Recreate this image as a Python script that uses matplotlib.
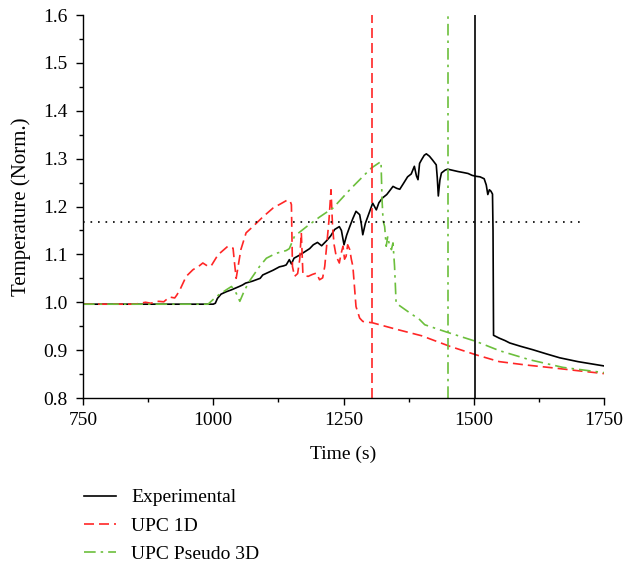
import matplotlib
matplotlib.use('Agg')
import matplotlib.pyplot as plt
from matplotlib.ticker import MultipleLocator

plt.rcParams['font.family'] = ['Liberation Serif', 'DejaVu Serif']

# ---- data ----
exp_t = [750, 1000, 1004, 1008, 1015, 1025, 1035, 1050, 1056, 1062,
         1075, 1090, 1095, 1105, 1115, 1127, 1135, 1140, 1146, 1150,
         1155, 1165, 1175, 1185, 1192, 1200, 1208, 1217, 1225, 1233,
         1242, 1246, 1251, 1256, 1262, 1268, 1274, 1281, 1284, 1287,
         1292, 1297, 1306, 1313, 1318, 1325, 1333, 1338, 1345, 1352,
         1358, 1365, 1373, 1380, 1386, 1390, 1393, 1396, 1400, 1405,
         1409, 1415, 1421, 1428, 1430, 1432, 1435, 1438, 1445, 1450,
         1458, 1470, 1480, 1489, 1497, 1505, 1512, 1520, 1524, 1527,
         1530, 1533, 1536, 1537, 1538, 1549, 1560, 1569, 1590, 1613,
         1640, 1665, 1700, 1750]
exp_y = [0.996, 0.996, 0.998, 1.008, 1.017, 1.022, 1.026, 1.033, 1.036, 1.040,
         1.044, 1.050, 1.057, 1.062, 1.067, 1.074, 1.076, 1.078, 1.089, 1.080,
         1.092, 1.098, 1.105, 1.112, 1.120, 1.125, 1.118, 1.128, 1.138, 1.152,
         1.158, 1.150, 1.120, 1.140, 1.158, 1.175, 1.190, 1.183, 1.165, 1.141,
         1.165, 1.180, 1.207, 1.193, 1.208, 1.218, 1.225, 1.232, 1.242, 1.238,
         1.236, 1.248, 1.262, 1.268, 1.284, 1.264, 1.256, 1.290, 1.298, 1.307,
         1.310, 1.305, 1.297, 1.287, 1.260, 1.222, 1.255, 1.270, 1.276, 1.278,
         1.276, 1.273, 1.271, 1.269, 1.265, 1.263, 1.262, 1.258, 1.245, 1.225,
         1.235, 1.232, 1.226, 1.150, 0.931, 0.925, 0.920, 0.915, 0.908, 0.901,
         0.892, 0.884, 0.876, 0.867]

upc1d_t = [750, 850, 870, 880, 895, 905, 916, 926, 930, 936,
           948, 961, 972, 980, 990, 996, 1009, 1028, 1038, 1041,
           1044, 1047, 1053, 1063, 1076, 1095, 1115, 1130, 1143, 1148,
           1150, 1152, 1156, 1162, 1166, 1169, 1172, 1176, 1182, 1190,
           1198, 1204, 1210, 1214, 1217, 1222, 1226, 1229, 1232, 1236,
           1242, 1245, 1249, 1252, 1255, 1258, 1262, 1265, 1268, 1274,
           1281, 1287, 1306, 1350, 1400, 1454, 1505, 1549, 1600, 1652,
           1700, 1750]
upc1d_y = [0.996, 0.996, 1.000, 0.998, 1.002, 1.001, 1.011, 1.009, 1.015, 1.026,
           1.054, 1.068, 1.075, 1.082, 1.075, 1.076, 1.099, 1.117, 1.113, 1.080,
           1.050, 1.070, 1.110, 1.145, 1.158, 1.178, 1.197, 1.206, 1.214, 1.210,
           1.204, 1.075, 1.054, 1.060, 1.090, 1.145, 1.061, 1.056, 1.054, 1.058,
           1.061, 1.047, 1.051, 1.075, 1.110, 1.170, 1.235, 1.158, 1.120, 1.096,
           1.082, 1.100, 1.117, 1.090, 1.096, 1.120, 1.110, 1.090, 1.075, 0.991,
           0.967, 0.960, 0.957, 0.944, 0.930, 0.908, 0.890, 0.876, 0.869, 0.863,
           0.857, 0.851]

upc3d_t = [750, 990, 999, 1010, 1025, 1035, 1044, 1051, 1060, 1070,
           1089, 1102, 1120, 1140, 1146, 1156, 1178, 1204, 1230, 1262,
           1303, 1322, 1324, 1326, 1329, 1332, 1335, 1338, 1342, 1345,
           1348, 1351, 1364, 1377, 1396, 1406, 1450, 1505, 1549, 1607,
           1671, 1750]
upc3d_y = [0.996, 0.996, 1.005, 1.015, 1.026, 1.033, 1.019, 1.002, 1.025, 1.045,
           1.075, 1.092, 1.102, 1.108, 1.112, 1.138, 1.157, 1.178, 1.197, 1.235,
           1.280, 1.294, 1.214, 1.170, 1.158, 1.117, 1.138, 1.120, 1.110, 1.124,
           1.075, 0.998, 0.988, 0.978, 0.964, 0.953, 0.937, 0.918, 0.899, 0.880,
           0.864, 0.853]

# vertical markers and threshold
vline_1d = 1304
vline_3d = 1450
vline_exp = 1503
threshold = 1.167
threshold_end = 1710

RED = '#ff2626'
GREEN = '#6cbf3c'
FS = 14

fig = plt.figure(figsize=(6.27, 5.64), dpi=100)
ax = fig.add_axes([0.1324, 0.2943, 0.8309, 0.6791])

l_exp, = ax.plot(exp_t, exp_y, color='black', lw=1.2, label='Experimental')
l_1d, = ax.plot(upc1d_t, upc1d_y, color=RED, lw=1.2, ls=(0, (6, 3)),
                label='UPC 1D')
l_3d, = ax.plot(upc3d_t, upc3d_y, color=GREEN, lw=1.2,
                ls=(0, (7, 3, 1.5, 3)), label='UPC Pseudo 3D')

ax.axvline(vline_1d, color=RED, lw=1.2, ls=(0, (6, 3)))
ax.axvline(vline_3d, color=GREEN, lw=1.2, ls=(0, (7, 3, 1.5, 3)))
ax.axvline(vline_exp, color='black', lw=1.2)
ax.plot([750, threshold_end], [threshold, threshold], color='black',
        lw=1.2, ls=(0, (1, 3.5)))

ax.set_xlim(750, 1750)
ax.set_ylim(0.8, 1.6)
ax.xaxis.set_major_locator(MultipleLocator(250))
ax.xaxis.set_minor_locator(MultipleLocator(125))
ax.yaxis.set_major_locator(MultipleLocator(0.1))
ax.yaxis.set_minor_locator(MultipleLocator(0.05))
ax.yaxis.set_major_formatter(plt.FuncFormatter(lambda v, p: f'{v:.1f}'))

for side in ('top', 'right'):
    ax.spines[side].set_visible(False)
for side in ('left', 'bottom'):
    ax.spines[side].set_linewidth(1.0)
ax.tick_params(which='major', direction='out', length=5, width=1.0,
               labelsize=FS)
ax.tick_params(axis='y', which='major', pad=6)
ax.tick_params(axis='x', which='major', pad=5)
ax.tick_params(which='minor', direction='out', length=3, width=1.0)

ax.set_xlabel('Time (s)', fontsize=FS, labelpad=12)
ax.set_ylabel('Temperature (Norm.)', fontsize=15, labelpad=9)

fig.legend(handles=[l_exp, l_1d, l_3d], loc='upper left',
           bbox_to_anchor=(0.122, 0.147), frameon=False, fontsize=FS,
           handlelength=1.65, handletextpad=0.75, labelspacing=0.55,
           borderaxespad=0)

fig.savefig('out.png', dpi=100)
